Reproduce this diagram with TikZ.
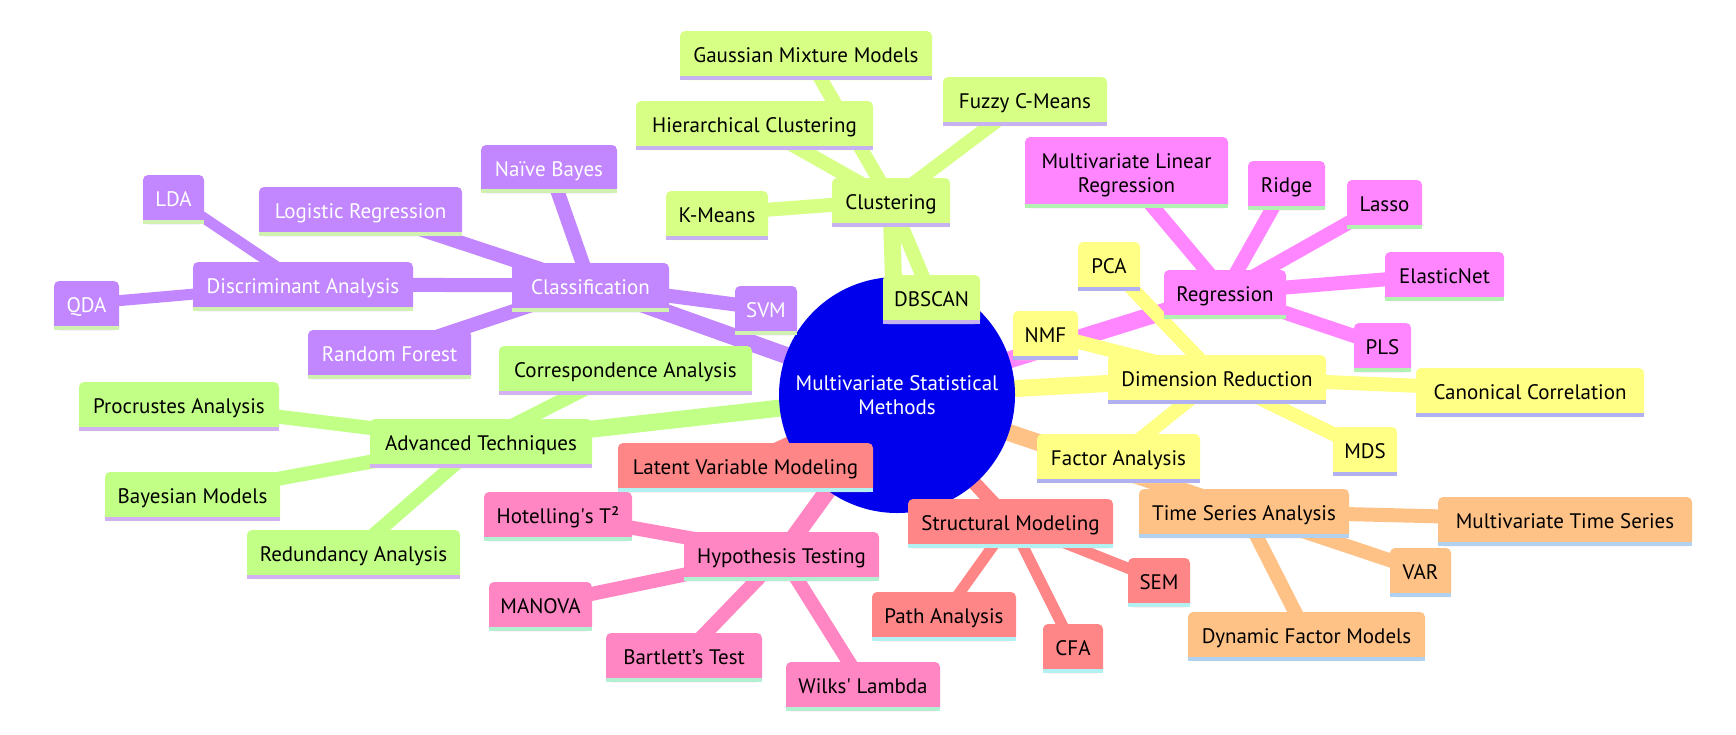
\documentclass[tikz,border=0pt]{standalone}
\usepackage{fontspec}
\setmainfont{PT Sans}
\pgfdeclarelayer{edges}
\pgfdeclarelayer{boxes}
\pgfsetlayers{edges,boxes,main}
\definecolor{rootc}{HTML}{0000EC}
\definecolor{fillA}{HTML}{C286FF}\definecolor{stripeA}{HTML}{D1F1B1}\colorlet{txtA}{white}
\definecolor{fillB}{HTML}{D7FF86}\definecolor{stripeB}{HTML}{C6B1F1}\colorlet{txtB}{black}
\definecolor{fillC}{HTML}{FFFF86}\definecolor{stripeC}{HTML}{B1B1F1}\colorlet{txtC}{black}
\definecolor{fillD}{HTML}{FF86FF}\definecolor{stripeD}{HTML}{B1F1B1}\colorlet{txtD}{black}
\definecolor{fillE}{HTML}{FFC286}\definecolor{stripeE}{HTML}{B1D1F1}\colorlet{txtE}{black}
\definecolor{fillF}{HTML}{FF8686}\definecolor{stripeF}{HTML}{B1F1F1}\colorlet{txtF}{black}
\definecolor{fillG}{HTML}{FF86C2}\definecolor{stripeG}{HTML}{B1F1D1}\colorlet{txtG}{black}
\definecolor{fillH}{HTML}{C2FF86}\definecolor{stripeH}{HTML}{D1B1F1}\colorlet{txtH}{black}
\tikzset{
  mmtext/.style={inner sep=0pt, text height=18.5pt, text depth=0pt, font=\fontsize{21}{24}\selectfont},
  rootnode/.style={circle, inner sep=0pt, minimum size=236pt, align=center, text=white, font=\fontsize{21}{24}\selectfont},
  e0/.style={line width=17pt, draw=fill#1},
  e1/.style={line width=14pt, draw=fill#1, line join=round},
  e2/.style={line width=11pt, draw=fill#1},
}
\newcommand\mmbox[8][]{%
  \node[mmtext, text=txt#7, minimum width={(#5-#3)*1pt}, minimum height={(#6-#4-4)*1pt}, #1] (#2) at ({(#3+#5)/2},{(#4+#6-4)/2}) {#8};
  \begin{pgfonlayer}{boxes}
    \fill[fill#7, rounded corners=5pt] (#3,#4) rectangle (#5,#6);
    \fill[fill#7] (#3,{#6-10}) rectangle (#5,#6);
    \fill[stripe#7] (#3,{#6-4}) rectangle (#5,#6);
  \end{pgfonlayer}%
}
\begin{document}
\begin{tikzpicture}[x=1pt,y=-1pt]
\useasboundingbox (0,0) rectangle (1736,734);
\begin{pgfonlayer}{edges}
  \fill[white] (0,0) rectangle (1736,734);
\end{pgfonlayer}
% root
\node[rootnode] (root) at (897,395) {Multivariate Statistical\\Methods};
\begin{pgfonlayer}{boxes}
  \fill[rootc] (root.center) circle[radius=118pt];
\end{pgfonlayer}
% Classification
\mmbox{cls}{512}{263}{669}{312}{A}{Classification}
\mmbox{logreg}{259}{187}{462}{236}{A}{Logistic Regression}
\mmbox{nb}{481}{145}{617}{193}{A}{Naïve Bayes}
\mmbox{da}{193}{262}{413}{311}{A}{Discriminant Analysis}
\mmbox{lda}{143}{175}{204}{224}{A}{LDA}
\mmbox{qda}{54}{281}{119}{330}{A}{QDA}
\mmbox{svm}{735}{286}{797}{335}{A}{SVM}
\mmbox{rf}{308}{330}{471}{379}{A}{Random Forest}
% Clustering
\mmbox{clu}{832}{178}{950}{227}{B}{Clustering}
\mmbox{km}{666}{191}{768}{240}{B}{K-Means}
\mmbox{hc}{636}{101}{873}{150}{B}{Hierarchical Clustering}
\mmbox{gmm}{680}{31}{932}{80}{B}{Gaussian Mixture Models}
\mmbox{fcm}{943}{77}{1107}{126}{B}{Fuzzy C-Means}
\mmbox{dbs}{883}{275}{980}{324}{B}{DBSCAN}
% Dimension Reduction
\mmbox{dr}{1108}{355}{1326}{404}{C}{Dimension Reduction}
\mmbox{pca}{1078}{242}{1140}{291}{C}{PCA}
\mmbox{nmf}{1013}{311}{1078}{360}{C}{NMF}
\mmbox{cc}{1416}{368}{1644}{417}{C}{Canonical Correlation}
\mmbox{fa}{1037}{434}{1200}{483}{C}{Factor Analysis}
\mmbox{mds}{1333}{427}{1397}{476}{C}{MDS}
% Regression
\mmbox{reg}{1164}{270}{1286}{319}{D}{Regression}
\mmbox[align=center, text height=, text depth=, yshift=-5pt]{mlr}{1025}{137}{1228}{208}{D}{Multivariate Linear\\Regression}
\mmbox{ridge}{1248}{161}{1325}{210}{D}{Ridge}
\mmbox{lasso}{1347}{180}{1422}{229}{D}{Lasso}
\mmbox{en}{1385}{252}{1504}{301}{D}{ElasticNet}
\mmbox{pls}{1354}{323}{1411}{372}{D}{PLS}
% Time series
\mmbox{ts}{1139}{489}{1349}{538}{E}{Time Series Analysis}
\mmbox{mts}{1438}{497}{1692}{546}{E}{Multivariate Time Series}
\mmbox{var}{1390}{548}{1451}{597}{E}{VAR}
\mmbox{dfm}{1188}{612}{1425}{661}{E}{Dynamic Factor Models}
% Latent variable modeling
\mmbox{lvm}{618}{443}{873}{492}{F}{Latent Variable Modeling}
\mmbox{sm}{908}{499}{1113}{548}{F}{Structural Modeling}
\mmbox{sem}{1128}{558}{1190}{607}{F}{SEM}
\mmbox{pa}{872}{592}{1016}{641}{F}{Path Analysis}
\mmbox{cfa}{1043}{624}{1103}{673}{F}{CFA}
% Hypothesis testing
\mmbox{ht}{684}{532}{879}{581}{G}{Hypothesis Testing}
\mmbox{hot}{484}{492}{632}{541}{G}{Hotelling\textquotesingle s T²}
\mmbox{man}{489}{582}{592}{631}{G}{MANOVA}
\mmbox{bart}{606}{633}{762}{682}{G}{Bartlett’s Test}
\mmbox{wilks}{786}{662}{940}{711}{G}{Wilks\textquotesingle{} Lambda}
% Advanced techniques
\mmbox{at}{370}{419}{592}{468}{H}{Advanced Techniques}
\mmbox{ca}{499}{346}{752}{395}{H}{Correspondence Analysis}
\mmbox{pro}{79}{382}{279}{431}{H}{Procrustes Analysis}
\mmbox{bay}{105}{472}{280}{521}{H}{Bayesian Models}
\mmbox{red}{247}{530}{460}{579}{H}{Redundancy Analysis}
\coordinate (lvmbend) at (920,425);
% edges
\begin{pgfonlayer}{edges}
  \draw[e0=A] (root.center) -- (cls.center);
  \draw[e0=B] (root.center) -- (clu.center);
  \draw[e0=C] (root.center) -- (dr.center);
  \draw[e0=D] (root.center) -- (reg.center);
  \draw[e0=E] (root.center) -- (ts.center);
  \draw[e0=F] (root.center) -- (lvm.center);
  \draw[e0=G] (root.center) -- (ht.center);
  \draw[e0=H] (root.center) -- (at.center);
  \foreach \c in {logreg,nb,da,svm,rf} \draw[e1=A] (cls.center) -- (\c.center);
  \foreach \c in {km,hc,gmm,fcm,dbs} \draw[e1=B] (clu.center) -- (\c.center);
  \foreach \c in {pca,nmf,cc,fa,mds} \draw[e1=C] (dr.center) -- (\c.center);
  \foreach \c in {mlr,ridge,lasso,en,pls} \draw[e1=D] (reg.center) -- (\c.center);
  \foreach \c in {mts,var,dfm} \draw[e1=E] (ts.center) -- (\c.center);
  \draw[e1=F] (lvm.center) -- (lvmbend) -- (sm.center);
  \foreach \c in {hot,man,bart,wilks} \draw[e1=G] (ht.center) -- (\c.center);
  \foreach \c in {ca,pro,bay,red} \draw[e1=H] (at.center) -- (\c.center);
  \foreach \c in {lda,qda} \draw[e2=A] (da.center) -- (\c.center);
  \foreach \c in {sem,pa,cfa} \draw[e2=F] (sm.center) -- (\c.center);
\end{pgfonlayer}
\end{tikzpicture}
\end{document}
